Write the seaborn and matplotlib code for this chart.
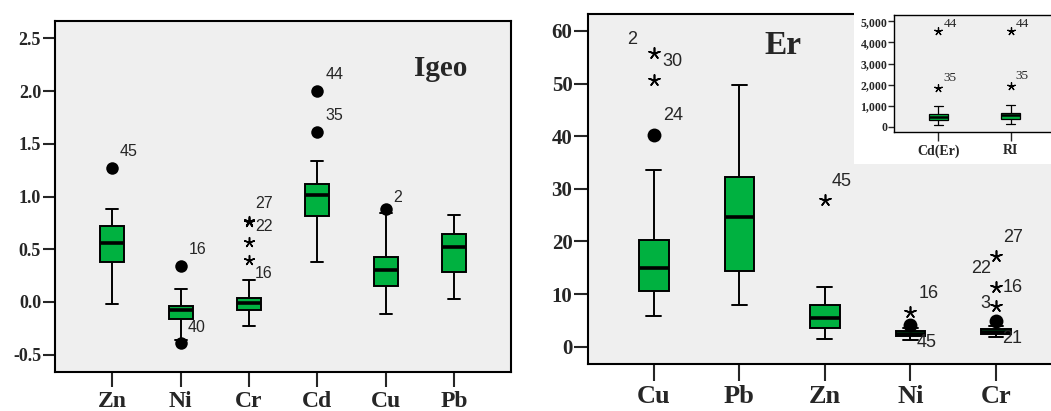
import numpy as np
import pandas as pd
import matplotlib
matplotlib.use("Agg")
import matplotlib.pyplot as plt
import seaborn as sns

# ---------------- data: Igeo panel ----------------
igeo_elements = ["Zn", "Ni", "Cr", "Cd", "Cu", "Pb"]
igeo_whislo = [-0.02, -0.36, -0.225, 0.38, -0.11, 0.025]
igeo_q1 = [0.38, -0.165, -0.08, 0.815, 0.15, 0.285]
igeo_med = [0.56, -0.08, -0.013, 1.01, 0.30, 0.52]
igeo_q3 = [0.72, -0.035, 0.04, 1.12, 0.43, 0.64]
igeo_whishi = [0.88, 0.12, 0.21, 1.34, 0.84, 0.825]
igeo_out_element = ["Zn", "Ni", "Ni", "Cr", "Cr", "Cr", "Cr", "Cd", "Cd", "Cu"]
igeo_out_value = [1.27, 0.345, -0.39, 0.77, 0.76, 0.57, 0.40, 2.00, 1.61, 0.88]
igeo_out_kind = ["o", "o", "o", "*", "*", "*", "*", "o", "o", "o"]
igeo_out_label = ["45", "16", "40", "27", "22", "", "16", "44", "35", "2"]
igeo_yticks = [-0.5, 0.0, 0.5, 1.0, 1.5, 2.0, 2.5]
igeo_yticklabels = ["-0.5", "0.0", "0.5", "1.0", "1.5", "2.0", "2.5"]

# ---------------- data: Er panel ----------------
er_elements = ["Cu", "Pb", "Zn", "Ni", "Cr"]
er_whislo = [5.8, 7.9, 1.45, 1.3, 1.84]
er_q1 = [10.6, 14.3, 3.55, 2.0, 2.4]
er_med = [14.95, 24.6, 5.45, 2.5, 2.85]
er_q3 = [20.3, 32.3, 7.85, 2.95, 3.35]
er_whishi = [33.5, 49.7, 11.4, 3.6, 3.9]
er_out_element = ["Cu", "Cu", "Cu", "Cu", "Zn", "Ni", "Ni", "Ni",
                  "Cr", "Cr", "Cr", "Cr", "Cr", "Cr"]
er_out_value = [55.8, 55.8, 50.6, 40.3, 27.9, 4.1, 6.5, 1.3,
                4.94, 7.7, 11.3, 17.2, 17.2, 1.84]
er_out_kind = ["*", "", "*", "o", "*", "o", "*", "",
               "o", "*", "*", "*", "", ""]
er_out_label = ["30", "2", "", "24", "45", "", "16", "45",
                "", "3", "16", "27", "22", "21"]
er_yticks = [0, 10, 20, 30, 40, 50, 60]
er_yticklabels = ["0", "10", "20", "30", "40", "50", "60"]

# ---------------- data: inset (Cd(Er), RI) ----------------
ins_elements = ["Cd(Er)", "RI"]
ins_whislo = [95, 142]
ins_q1 = [315, 363]
ins_med = [489, 552]
ins_q3 = [600, 662]
ins_whishi = [994, 1057]
ins_out_element = ["Cd(Er)", "Cd(Er)", "RI", "RI"]
ins_out_value = [4527, 1845, 4558, 1924]
ins_out_kind = ["*", "*", "*", "*"]
ins_out_label = ["44", "35", "44", "35"]
ins_yticks = [0, 1000, 2000, 3000, 4000, 5000]
ins_yticklabels = ["0", "1,000", "2,000", "3,000", "4,000", "5,000"]

# ---------------- styles ----------------
GREEN = "#00B140"
BG = "#EFEFEF"

# label offsets in pixels (dx, dy, ha)
igeo_offsets = [(7, 17, "left"), (8, 16, "left"), (7, 16, "left"),
                (6, 17, "left"), (6, -5, "left"), (0, 0, "left"),
                (6, -14, "left"), (8, 17, "left"), (8, 17, "left"),
                (8, 12, "left")]
er_offsets = [(8, -8, "left"), (-22, 14, "center"), (0, 0, "left"),
              (9, 19, "left"), (7, 18, "left"), (0, 0, "left"),
              (8, 19, "left"), (6, -3, "left"), (0, 0, "left"),
              (-6, 3, "right"), (7, 0, "left"), (7, 19, "left"),
              (-5, -12, "right"), (6, -2, "left")]
ins_offsets = [(5, 7, "left"), (5, 10, "left"), (5, 7, "left"), (5, 10, "left")]

sns.set_style("ticks")
plt.rcParams["font.family"] = ["Liberation Serif", "DejaVu Serif"]
plt.rcParams["font.weight"] = "bold"
plt.rcParams["axes.unicode_minus"] = False

W, H = 1051, 411
fig = plt.figure(figsize=(W / 100, H / 100), dpi=100)


def fr(x0, y0, x1, y1):
    return [x0 / W, 1 - y1 / H, (x1 - x0) / W, (y1 - y0) / H]


def draw_boxes(ax, elements, lo, q1, med, q3, hi, width, lw, medlw):
    vals = np.column_stack([lo, q1, med, q3, hi]).ravel()
    df = pd.DataFrame({"element": np.repeat(elements, 5), "value": vals})
    sns.boxplot(data=df, x="element", y="value", order=elements, ax=ax,
                width=width, color=GREEN, saturation=1, linecolor="black",
                linewidth=lw, whis=(0, 100), showfliers=False,
                medianprops=dict(linewidth=medlw, color="black"))


def draw_outliers(ax, elements, out_el, out_val, out_kind,
                  csize, ssize, slw):
    df = pd.DataFrame({"element": out_el, "value": out_val, "kind": out_kind})
    circ = df[df["kind"] == "o"]
    star = df[df["kind"] == "*"]
    if len(circ):
        sns.stripplot(data=circ, x="element", y="value", order=elements,
                      ax=ax, jitter=False, color="black", marker="o",
                      size=csize, linewidth=0)
    if len(star):
        sns.stripplot(data=star, x="element", y="value", order=elements,
                      ax=ax, jitter=False, color="black", edgecolor="black",
                      marker=(5, 2, 0), size=ssize, linewidth=slw)


def draw_labels(ax, elements, out_el, out_val, out_label, offsets,
                size, family):
    for e, v, lab, (dx, dy, ha) in zip(out_el, out_val, out_label, offsets):
        if lab:
            ax.annotate(lab, xy=(elements.index(e), v), xytext=(dx, dy),
                        textcoords="offset pixels", ha=ha, va="center",
                        fontsize=size, family=family, fontweight="normal")


def style_axes(ax, spw):
    ax.set_facecolor(BG)
    for s in ax.spines.values():
        s.set_linewidth(spw)
        s.set_color("black")
    ax.set_xlabel("")
    ax.set_ylabel("")


# ---------------- left panel ----------------
ax1 = fig.add_axes(fr(55, 21, 511, 372))
draw_boxes(ax1, igeo_elements, igeo_whislo, igeo_q1, igeo_med, igeo_q3,
           igeo_whishi, 0.35, 1.4, 2.6)
draw_outliers(ax1, igeo_elements, igeo_out_element, igeo_out_value,
              igeo_out_kind, 9, 7, 1.1)
draw_labels(ax1, igeo_elements, igeo_out_element, igeo_out_value,
            igeo_out_label, igeo_offsets, 11.5,
            ["Liberation Sans", "DejaVu Sans"])
style_axes(ax1, 1.5)
ax1.set_xlim(-0.838, 5.834)
ax1.set_ylim(-0.664, 2.664)
ax1.set_yticks(igeo_yticks)
ax1.set_yticklabels(igeo_yticklabels)
ax1.set_xticks(range(len(igeo_elements)))
ax1.set_xticklabels(igeo_elements)
ax1.tick_params(axis="y", length=9, width=1.5, pad=1, labelsize=13)
ax1.tick_params(axis="x", length=11, width=1.5, pad=3, labelsize=17)
ax1.text(0.8465, 0.866, "Igeo", transform=ax1.transAxes, ha="center",
         va="center", fontsize=21, fontweight="bold")

# ---------------- right panel ----------------
ax2 = fig.add_axes(fr(587.7, 14, 1052, 364.3))
draw_boxes(ax2, er_elements, er_whislo, er_q1, er_med, er_q3,
           er_whishi, 0.35, 1.4, 2.6)
draw_outliers(ax2, er_elements, er_out_element, er_out_value,
              er_out_kind, 10, 8, 1.2)
draw_labels(ax2, er_elements, er_out_element, er_out_value,
            er_out_label, er_offsets, 13,
            ["Liberation Sans", "DejaVu Sans"])
style_axes(ax2, 1.5)
ax2.spines["right"].set_visible(False)
ax2.set_xlim(-0.775, 4.655)
ax2.set_ylim(-3.35, 63.23)
ax2.set_yticks(er_yticks)
ax2.set_yticklabels(er_yticklabels)
ax2.set_xticks(range(len(er_elements)))
ax2.set_xticklabels(er_elements)
ax2.tick_params(axis="y", length=10, width=1.5, pad=1, labelsize=15)
ax2.tick_params(axis="x", length=12, width=1.5, pad=3, labelsize=19)
ax2.text(0.4215, 0.9115, "Er", transform=ax2.transAxes, ha="center",
         va="center", fontsize=24, fontweight="bold")

# ---------------- inset ----------------
bg = fig.add_axes(fr(854, 0, 1051, 164.3))
bg.set_facecolor("white")
bg.set_xticks([])
bg.set_yticks([])
for s in bg.spines.values():
    s.set_visible(False)

ax3 = fig.add_axes(fr(894.3, 15, 1052, 132.3))
draw_boxes(ax3, ins_elements, ins_whislo, ins_q1, ins_med, ins_q3,
           ins_whishi, 0.26, 0.9, 1.8)
draw_outliers(ax3, ins_elements, ins_out_element, ins_out_value,
              ins_out_kind, 5, 5.5, 0.9)
draw_labels(ax3, ins_elements, ins_out_element, ins_out_value,
            ins_out_label, ins_offsets, 9.5,
            ["Liberation Serif", "DejaVu Serif"])
style_axes(ax3, 1.0)
ax3.spines["right"].set_visible(False)
ax3.set_xlim(-0.611, 1.575)
ax3.set_ylim(-251, 5298)
ax3.set_yticks(ins_yticks)
ax3.set_yticklabels(ins_yticklabels)
ax3.set_xticks(range(len(ins_elements)))
ax3.set_xticklabels(ins_elements)
ax3.tick_params(axis="y", length=4.5, width=1.0, pad=0.5, labelsize=8.5)
ax3.tick_params(axis="x", length=6.5, width=1.0, pad=2, labelsize=10)

fig.savefig("out.png", dpi=100)
